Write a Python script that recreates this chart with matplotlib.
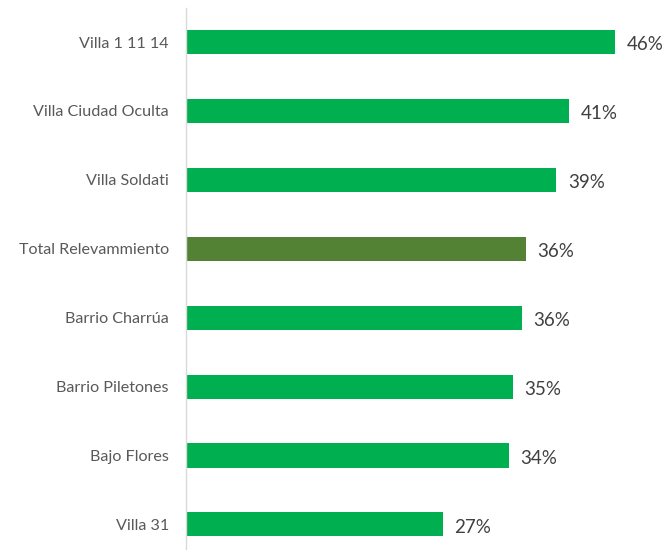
import matplotlib
matplotlib.use("Agg")
import matplotlib.pyplot as plt

categories = ["Villa 1 11 14", "Villa Ciudad Oculta", "Villa Soldati", "Total Relevammiento",
              "Barrio Charrúa", "Barrio Piletones", "Bajo Flores", "Villa 31"]
values = [46.0, 41.0, 39.7, 36.4, 36.0, 35.0, 34.6, 27.5]
labels = ["46%", "41%", "39%", "36%", "36%", "35%", "34%", "27%"]
colors = ["#00B050", "#00B050", "#00B050", "#548235", "#00B050", "#00B050", "#00B050", "#00B050"]

plt.rcParams['font.family'] = ['Lato', 'DejaVu Sans']
fig = plt.figure(figsize=(6.65, 5.5), dpi=100)
W, H = 665, 550
ax = fig.add_axes([186 / W, 0, 1 - 186 / W, 1 - 7.6 / H])
pos = list(range(len(categories)))
ax.barh(pos, values, height=0.35, color=colors)
ax.set_xlim(0, 479 / 9.33)
ax.set_ylim(7.372, -0.5)
ax.set_yticks(pos)
ax.set_yticklabels(categories, fontsize=11.6, color="#595959")
ax.tick_params(axis='y', length=0, pad=12.3)
ax.set_xticks([])
for s in ["top", "right", "bottom"]:
    ax.spines[s].set_visible(False)
ax.spines["left"].set_color("#D9D9D9")
ax.spines["left"].set_linewidth(1)
for p, v, l in zip(pos, values, labels):
    ax.annotate(l, (v, p), xytext=(8.5, -2), textcoords="offset points",
                va="center", ha="left", fontsize=13.5, color="#404040")
fig.savefig("out.png", dpi=100)
